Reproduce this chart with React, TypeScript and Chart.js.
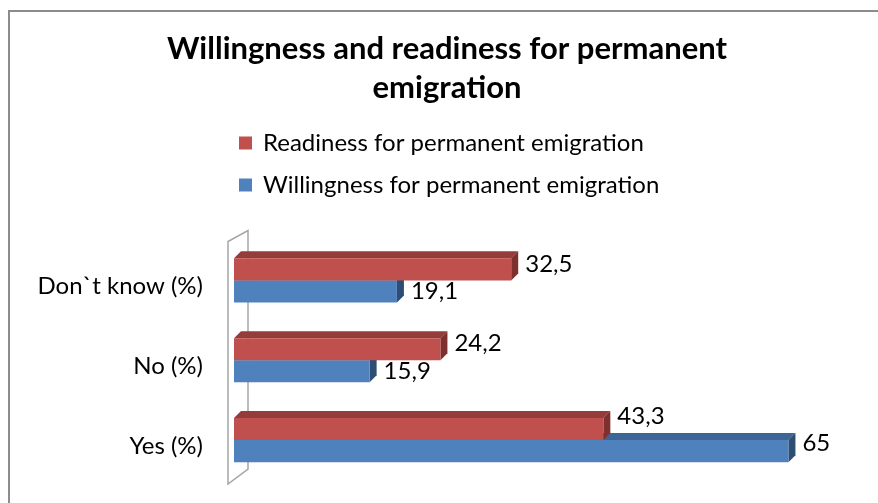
import React, { useEffect, useRef } from 'react';
import { Chart, registerables } from 'chart.js';
Chart.register(...registerables);

const categories = ["Don`t know (%)", "No (%)", "Yes (%)"];
const readiness = [32.5, 24.2, 43.3];
const willingness = [19.1, 15.9, 65];
const seriesLabels = ["Readiness for permanent emigration", "Willingness for permanent emigration"];
const titleLines = ["Willingness and readiness for permanent", "emigration"];

const FONT = 'Lato, "Open Sans", sans-serif';
const DEPTH = 7;
const W = 870;
const H = 493;
const shades = [
  { front: '#C0504D', top: '#953B39', side: '#7E302E', labelDy: -5.5 },
  { front: '#4F81BD', top: '#3D6596', side: '#2E4D74', labelDy: 0 },
];

const fmt = (v: number) => String(v).replace('.', ',');

const bar3d = {
  id: 'bar3d',
  beforeDraw(chart: any) {
    const { ctx, width, height } = chart;
    ctx.save();
    ctx.strokeStyle = '#8C8C8C';
    ctx.lineWidth = 2;
    ctx.beginPath();
    ctx.moveTo(1, height);
    ctx.lineTo(1, 1);
    ctx.lineTo(width, 1);
    ctx.stroke();
    ctx.restore();
  },
  beforeDatasetsDraw(chart: any) {
    const { ctx, chartArea } = chart;
    const L = chartArea.left, T = chartArea.top, B = chartArea.bottom;
    ctx.save();
    ctx.strokeStyle = '#A6A6A6';
    ctx.lineWidth = 1.5;
    ctx.beginPath();
    ctx.moveTo(L - 6, T + 1);
    ctx.lineTo(L + 14, T - 10);
    ctx.lineTo(L + 14, B - 11);
    ctx.lineTo(L - 6, B + 4);
    ctx.closePath();
    ctx.stroke();
    ctx.restore();
  },
  beforeDatasetDraw(chart: any, args: any) {
    const { ctx } = chart;
    const s = shades[args.index];
    ctx.save();
    args.meta.data.forEach((el: any) => {
      const { x, y, base, height } = el.getProps(['x', 'y', 'base', 'height'], true);
      const t = y - height / 2, b = y + height / 2;
      ctx.fillStyle = s.top;
      ctx.beginPath();
      ctx.moveTo(base, t);
      ctx.lineTo(x, t);
      ctx.lineTo(x + DEPTH, t - DEPTH);
      ctx.lineTo(base + DEPTH, t - DEPTH);
      ctx.closePath();
      ctx.fill();
      ctx.fillStyle = s.side;
      ctx.beginPath();
      ctx.moveTo(x, t);
      ctx.lineTo(x + DEPTH, t - DEPTH);
      ctx.lineTo(x + DEPTH, b - DEPTH);
      ctx.lineTo(x, b);
      ctx.closePath();
      ctx.fill();
    });
    ctx.restore();
  },
  afterDatasetsDraw(chart: any) {
    const { ctx } = chart;
    const ds0 = chart.data.datasets[0].data;
    const ds1 = chart.data.datasets[1].data;
    ctx.save();
    ctx.font = `24px ${FONT}`;
    ctx.fillStyle = '#000';
    ctx.textBaseline = 'middle';
    ctx.textAlign = 'left';
    chart.data.datasets.forEach((ds: any, i: number) => {
      const meta = chart.getDatasetMeta(i);
      meta.data.forEach((el: any, j: number) => {
        const { x, y } = el.getProps(['x', 'y'], true);
        // lift labels where the lower bar runs past the upper one, so they clear its top face
        const lift = ds1[j] > ds0[j] ? -7.5 : 0;
        ctx.fillText(fmt(ds.data[j]), x + DEPTH + 7, y + shades[i].labelDy + lift);
      });
    });
    ctx.restore();
  },
  afterDraw(chart: any) {
    const { ctx, chartArea } = chart;
    const L = chartArea.left;
    ctx.save();
    ctx.font = `24px ${FONT}`;
    ctx.textBaseline = 'middle';
    ctx.textAlign = 'left';
    chart.data.datasets.forEach((ds: any, i: number) => {
      const cy = 133 + i * 42;
      ctx.fillStyle = shades[i].front;
      ctx.fillRect(L + 5, cy - 6.5, 13, 13);
      ctx.fillStyle = '#000';
      ctx.fillText(ds.label, L + 29, cy);
    });
    ctx.restore();
  },
};

export default function App() {
  const ref = useRef<HTMLCanvasElement>(null);
  useEffect(() => {
    if (!ref.current) return;
    const chart = new Chart(ref.current, {
      type: 'bar',
      data: {
        labels: categories,
        datasets: [
          { label: seriesLabels[0], data: readiness, backgroundColor: shades[0].front },
          { label: seriesLabels[1], data: willingness, backgroundColor: shades[1].front },
        ],
      },
      options: {
        indexAxis: 'y',
        animation: false,
        responsive: false,
        layout: { padding: { left: 8, right: 0, top: 2, bottom: 23 } },
        datasets: { bar: { categoryPercentage: 0.553, barPercentage: 1 } },
        plugins: {
          legend: { display: false },
          tooltip: { enabled: false },
          title: {
            display: true,
            text: titleLines,
            color: '#000',
            font: { family: FONT, size: 31, weight: 'bold', lineHeight: 1.25 },
            padding: { top: 18, bottom: 133 },
          },
        },
        scales: {
          x: { display: false, min: 0, max: 75.5 },
          y: {
            grid: { display: false, drawTicks: false },
            border: { display: false },
            ticks: { color: '#000', font: { family: FONT, size: 24 }, padding: 31, labelOffset: 6 },
            afterFit: (scale: any) => {
              scale.width = 218;
              scale.paddingTop = 0;
              scale.paddingBottom = 0;
            },
          },
        },
      },
      plugins: [bar3d],
    });
    return () => chart.destroy();
  }, []);
  return (
    <canvas
      ref={ref}
      width={W}
      height={H}
      style={{ position: 'fixed', left: 8, top: 10, display: 'block', width: W, height: H }}
    />
  );
}
